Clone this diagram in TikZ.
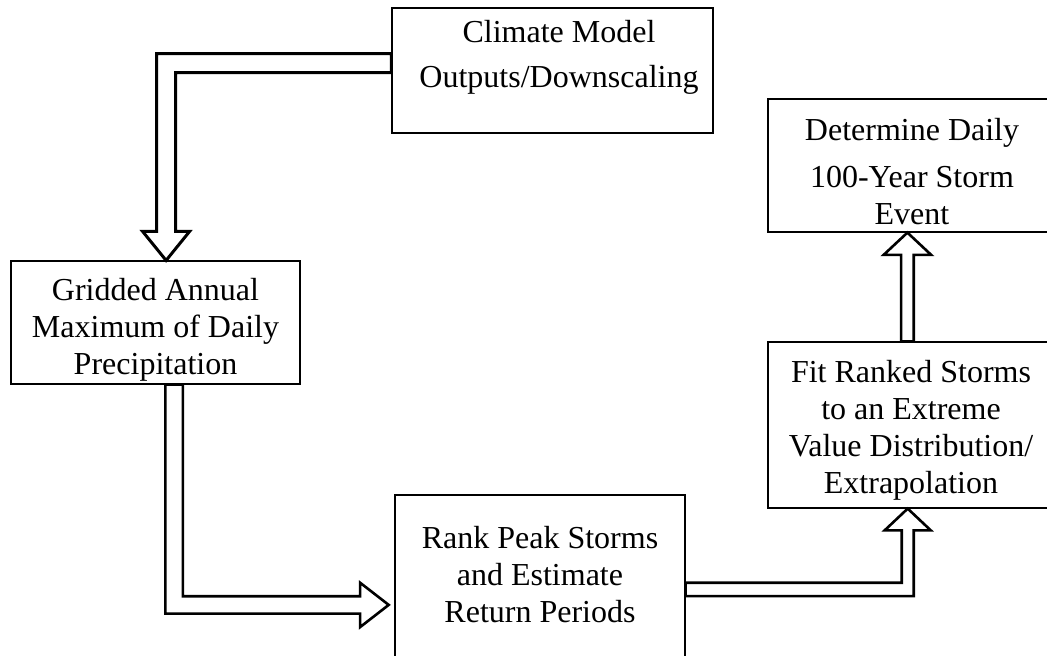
\documentclass[tikz,border=0pt]{standalone}
\usepackage{fontspec}
\setmainfont{Liberation Serif}
\usetikzlibrary{calc, positioning}

\tikzset{
  box/.style={draw, line width=1.2pt, inner sep=0pt},
  txt/.style={inner sep=0pt, anchor=base, align=center, font=\fontsize{32}{37}\selectfont},
  blockarrow/.style={draw, fill=white, line width=2.6pt, line join=miter}
}

\begin{document}
\begin{tikzpicture}[x=1pt, y=-1pt]
  \useasboundingbox (0,0) rectangle (1047,656);
  \clip (0,0) rectangle (1047,656);

  % Boxes
  \node[box, minimum width=321pt, minimum height=125pt] (clim) at (552.5,70.5) {};
  \node[box, minimum width=289pt, minimum height=123pt] (grid) at (155.5,322.5) {};
  \node[box, minimum width=290pt, minimum height=195pt] (rank) at (540,592.5) {};
  \node[box, minimum width=288pt, minimum height=166pt] (fit) at (912,425) {};
  \node[box, minimum width=288pt, minimum height=133pt] (det) at (912,165.5) {};

  % Texts (base = last line)
  \node[txt] (climtext) at ($(clim.north)+(6.5,80)$) {Climate Model\\[8pt]Outputs/Downscaling};
  \node[txt] (gridtext) at ($(grid.north)+(0,114)$) {Gridded Annual\\Maximum of Daily\\Precipitation};
  \node[txt] (ranktext) at ($(rank.north)+(0,128)$) {Rank Peak Storms\\and Estimate\\Return Periods};
  \node[txt] (fittext) at ($(fit.north)+(-1,152)$) {Fit Ranked Storms\\to an Extreme\\Value Distribution/\\Extrapolation};
  \node[txt] (dettext) at ($(det.north)+(0,126)$) {Determine Daily\\[10pt]100-Year Storm\\Event};

  % Arrow ends
  \coordinate (t1) at ($(clim.north west)+(0,55.8)$);
  \coordinate (h1) at ($(grid.north west)+(155.7,0)$);
  \coordinate (t2) at ($(grid.south west)+(163.7,0)$);
  \coordinate (h2) at ($(rank.north west)+(-5.7,110.5)$);
  \coordinate (t3) at ($(rank.north east)+(0,95)$);
  \coordinate (h3) at ($(fit.south west)+(140.3,0)$);
  \coordinate (t4) at ($(fit.north west)+(140,0)$);
  \coordinate (h4) at ($(det.south west)+(140,0)$);

  % Block arrows
  \draw[blockarrow, line width=3pt] ($(t1)+(0,-9.5)$) -| ($(h1)+(-9.5,-29)$) -- ++(-14,0) -- (h1)
    -- ++(23.5,-29) -- ++(-14,0) |- ($(t1)+(0,9.5)$) -- cycle;
  \draw[blockarrow] ($(t2)+(-8.7,0)$) |- ($(h2)+(-28.6,8.7)$) -- ++(0,13.5) -- (h2)
    -- ++(-28.6,-22.2) -- ++(0,13.5) -| ($(t2)+(8.7,0)$) -- cycle;
  \draw[blockarrow] ($(t3)+(0,-6.7)$) -| ($(h3)+(-6,21.7)$) -- ++(-17,0) -- (h3)
    -- ++(23,21.7) -- ++(-17,0) |- ($(t3)+(0,6.7)$) -- cycle;
  \draw[blockarrow] ($(t4)+(-6.3,0)$) |- ($(h4)+(-23.8,22.3)$) -- (h4)
    -- ++(23.8,22.3) -| ($(t4)+(6.3,0)$) -- cycle;
\end{tikzpicture}
\end{document}
